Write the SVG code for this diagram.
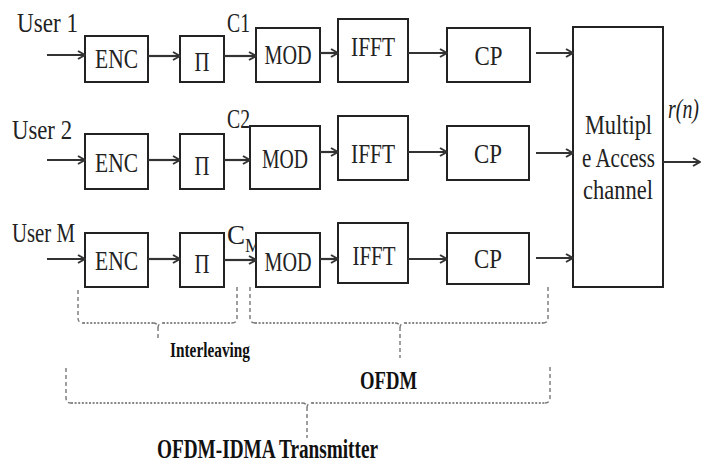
<svg xmlns="http://www.w3.org/2000/svg" width="709" height="463" viewBox="0 0 709 463">
<defs>
<style>
.box{fill:#fff;stroke:#222;stroke-width:2}
.t{font-family:"Liberation Serif","Times New Roman",serif;fill:#222;font-size:28px;text-anchor:middle}
.lbl{font-family:"Liberation Serif","Times New Roman",serif;fill:#222;font-size:27px}
.b{font-family:"Liberation Serif","Times New Roman",serif;fill:#111;font-weight:bold}
.ar{fill:none;stroke:#333;stroke-width:2.2;marker-end:url(#ah)}
.vd{fill:none;stroke:#777;stroke-width:1.4;stroke-dasharray:4,3}
.hd{fill:none;stroke:#888;stroke-width:2;stroke-dasharray:2,1.6}
</style>
<marker id="ah" viewBox="0 0 10 10" refX="9" refY="5" markerWidth="10" markerHeight="10" markerUnits="userSpaceOnUse" orient="auto">
<path d="M2,1 L9,5 L2,9" fill="none" stroke="#333" stroke-width="2"/>
</marker>
</defs>
<rect width="709" height="463" fill="#fff"/>

<g id="labels">
<text class="lbl" x="17" y="32" textLength="61" lengthAdjust="spacingAndGlyphs">User  1</text>
<text class="lbl" x="12" y="139" textLength="60" lengthAdjust="spacingAndGlyphs">User  2</text>
<text class="lbl" x="12" y="242" textLength="63" lengthAdjust="spacingAndGlyphs">User M</text>
<text class="lbl" x="227" y="32" textLength="23" lengthAdjust="spacingAndGlyphs">C1</text>
<text class="lbl" x="227" y="128" textLength="23" lengthAdjust="spacingAndGlyphs">C2</text>
<text class="lbl" x="227" y="244">C<tspan font-size="18" dy="8">M</tspan></text>
<text class="lbl" x="668" y="118" font-style="italic" font-size="28" textLength="31" lengthAdjust="spacingAndGlyphs">r(n)</text>
</g>

<g id="enc1"><rect class="box" x="85" y="36" width="63" height="46"/><text class="t" x="116.5" y="68" textLength="43" lengthAdjust="spacingAndGlyphs">ENC</text></g>
<g id="pi1"><rect class="box" x="180" y="36" width="44" height="46"/><text class="t" x="202" y="71" font-size="31" textLength="15" lengthAdjust="spacingAndGlyphs">Π</text></g>
<g id="mod1"><rect class="box" x="256" y="28" width="64" height="54"/><text class="t" x="288" y="64" textLength="47" lengthAdjust="spacingAndGlyphs">MOD</text></g>
<g id="ifft1"><rect class="box" x="338" y="19" width="70" height="63"/><text class="t" x="373" y="56" textLength="44" lengthAdjust="spacingAndGlyphs">IFFT</text></g>
<g id="cp1"><rect class="box" x="447" y="28" width="83" height="54"/><text class="t" x="488.5" y="65" textLength="28" lengthAdjust="spacingAndGlyphs">CP</text></g>

<g id="enc2"><rect class="box" x="85" y="134" width="63" height="55"/><text class="t" x="116.5" y="172" textLength="43" lengthAdjust="spacingAndGlyphs">ENC</text></g>
<g id="pi2"><rect class="box" x="180" y="134" width="44" height="55"/><text class="t" x="202" y="175" font-size="31" textLength="15" lengthAdjust="spacingAndGlyphs">Π</text></g>
<g id="mod2"><rect class="box" x="250" y="126" width="70" height="63"/><text class="t" x="285" y="168" textLength="46" lengthAdjust="spacingAndGlyphs">MOD</text></g>
<g id="ifft2"><rect class="box" x="338" y="116" width="70" height="64"/><text class="t" x="373" y="163" textLength="44" lengthAdjust="spacingAndGlyphs">IFFT</text></g>
<g id="cp2"><rect class="box" x="447" y="126" width="82" height="54"/><text class="t" x="488" y="163" textLength="28" lengthAdjust="spacingAndGlyphs">CP</text></g>

<g id="enc3"><rect class="box" x="85" y="233" width="63" height="54"/><text class="t" x="116.5" y="270" textLength="43" lengthAdjust="spacingAndGlyphs">ENC</text></g>
<g id="pi3"><rect class="box" x="180" y="233" width="44" height="54"/><text class="t" x="202" y="273" font-size="31" textLength="15" lengthAdjust="spacingAndGlyphs">Π</text></g>
<g id="mod3"><rect class="box" x="256" y="233" width="64" height="54"/><text class="t" x="288" y="271" textLength="47" lengthAdjust="spacingAndGlyphs">MOD</text></g>
<g id="ifft3"><rect class="box" x="338" y="223" width="70" height="60"/><text class="t" x="374" y="265" textLength="43" lengthAdjust="spacingAndGlyphs">IFFT</text></g>
<g id="cp3"><rect class="box" x="447" y="233" width="82" height="51"/><text class="t" x="488" y="268" textLength="28" lengthAdjust="spacingAndGlyphs">CP</text></g>

<g id="mac"><rect class="box" x="573" y="27" width="90" height="260"/>
<text class="t" x="618.5" y="134" font-size="27" textLength="67" lengthAdjust="spacingAndGlyphs">Multipl</text>
<text class="t" x="618.5" y="167" font-size="27" textLength="73" lengthAdjust="spacingAndGlyphs">e Access</text>
<text class="t" x="618" y="199" font-size="27" textLength="70" lengthAdjust="spacingAndGlyphs">channel</text>
</g>

<g id="connectors">
<path class="ar" d="M47,55 H85"/>
<path class="ar" d="M148,56 H180"/>
<path class="ar" d="M224,56 H256"/>
<path class="ar" d="M320,53 H338"/>
<path class="ar" d="M408,53 H447"/>
<path class="ar" d="M536,53 H573"/>
<path class="ar" d="M47,160 H85"/>
<path class="ar" d="M148,160 H180"/>
<path class="ar" d="M224,160 H250"/>
<path class="ar" d="M320,152 H338"/>
<path class="ar" d="M408,152 H447"/>
<path class="ar" d="M536,153 H573"/>
<path class="ar" d="M47,259 H85"/>
<path class="ar" d="M148,259 H180"/>
<path class="ar" d="M224,260 H256"/>
<path class="ar" d="M320,259 H338"/>
<path class="ar" d="M408,259 H447"/>
<path class="ar" d="M536,258 H573"/>
<path class="ar" d="M663,162 H700"/>
</g>

<g id="brace-interleaving">
<path class="vd" d="M78,290 V318 Q78,323 83,323"/>
<path class="hd" d="M83,323 H153"/>
<path class="vd" d="M153,323 Q158,323 158,328 V340 M158,328 Q158,323 163,323"/>
<path class="hd" d="M163,323 H232"/>
<path class="vd" d="M232,323 Q237,323 237,318 V287"/>
<text class="b" x="170" y="357" font-size="20" textLength="80" lengthAdjust="spacingAndGlyphs">Interleaving</text>
</g>

<g id="brace-ofdm">
<path class="vd" d="M250,287 V318 Q250,323 255,323"/>
<path class="hd" d="M255,323 H395"/>
<path class="vd" d="M395,323 Q400,323 400,328 V358 M400,328 Q400,323 405,323"/>
<path class="hd" d="M405,323 H543"/>
<path class="vd" d="M543,323 Q548,323 548,318 V287"/>
<text class="b" x="360" y="389" font-size="26" textLength="57" lengthAdjust="spacingAndGlyphs">OFDM</text>
</g>

<g id="brace-transmitter">
<path class="vd" d="M66,368 V398 Q66,403 71,403"/>
<path class="hd" d="M71,403 H302"/>
<path class="vd" d="M302,403 Q307,403 307,408 V438 M307,408 Q307,403 312,403"/>
<path class="hd" d="M312,403 H545"/>
<path class="vd" d="M545,403 Q550,403 550,398 V367"/>
<text class="b" x="157" y="458" font-size="28" textLength="221" lengthAdjust="spacingAndGlyphs">OFDM-IDMA Transmitter</text>
</g>
</svg>
